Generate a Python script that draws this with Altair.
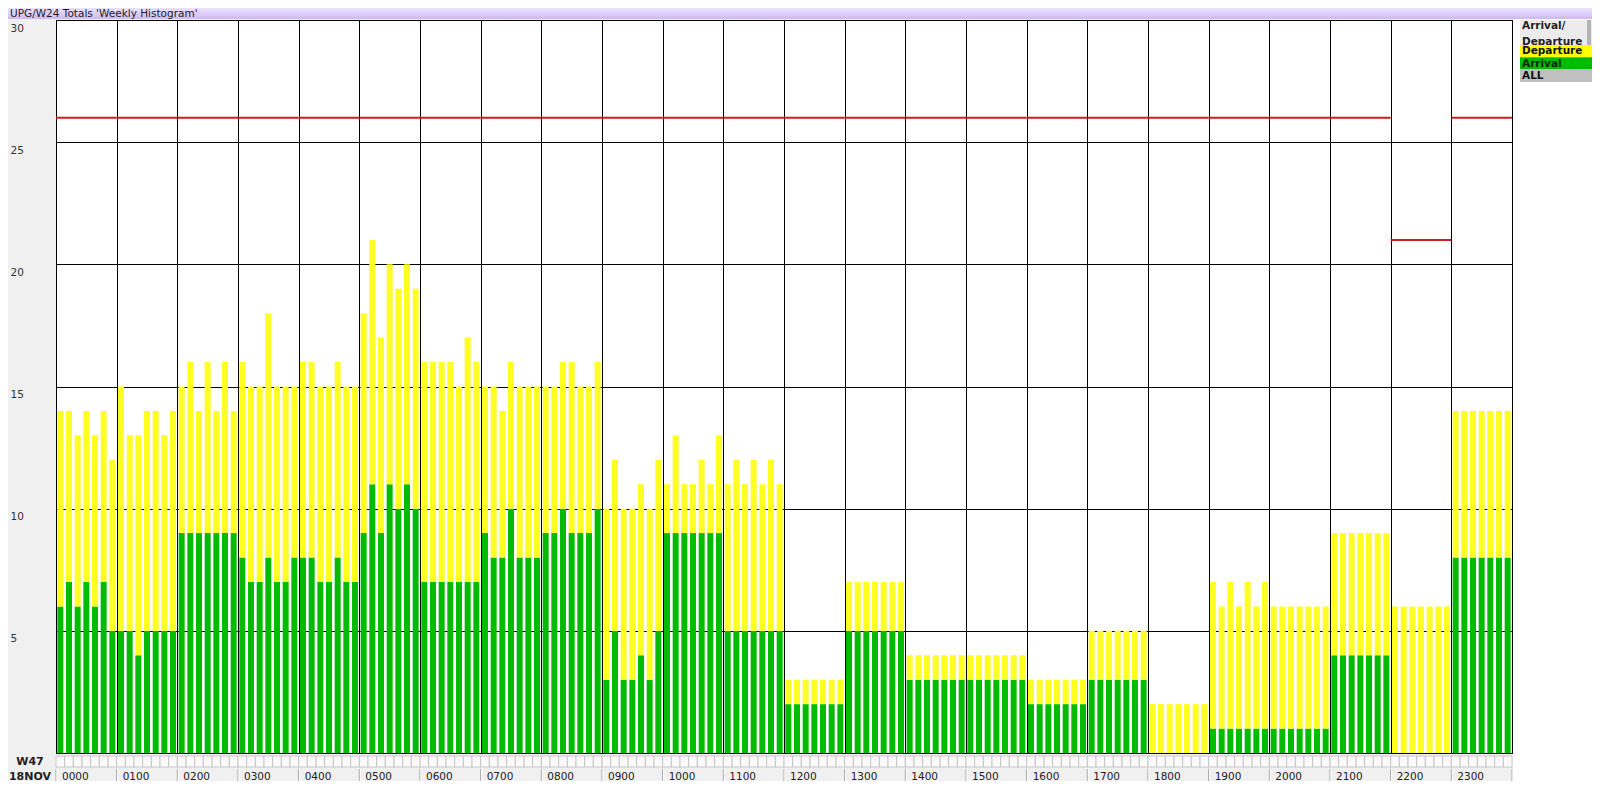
import altair as alt
import pandas as pd

TITLE = "UPG/W24 Totals 'Weekly Histogram'"
hours = ["0000", "0100", "0200", "0300", "0400", "0500", "0600", "0700",
         "0800", "0900", "1000", "1100", "1200", "1300", "1400", "1500",
         "1600", "1700", "1800", "1900", "2000", "2100", "2200", "2300"]
week_labels = ["W47", "18NOV"]
y_ticks = [5, 10, 15, 20, 25, 30]

# arrivals per hour, one value per day of the week (7 bars per hour)
arrivals = [
    [6, 7, 6, 7, 6, 7, 5],
    [5, 5, 4, 5, 5, 5, 5],
    [9, 9, 9, 9, 9, 9, 9],
    [8, 7, 7, 8, 7, 7, 8],
    [8, 8, 7, 7, 8, 7, 7],
    [9, 11, 9, 11, 10, 11, 10],
    [7, 7, 7, 7, 7, 7, 7],
    [9, 8, 8, 10, 8, 8, 8],
    [9, 9, 10, 9, 9, 9, 10],
    [3, 5, 3, 3, 4, 3, 5],
    [9, 9, 9, 9, 9, 9, 9],
    [5, 5, 5, 5, 5, 5, 5],
    [2, 2, 2, 2, 2, 2, 2],
    [5, 5, 5, 5, 5, 5, 5],
    [3, 3, 3, 3, 3, 3, 3],
    [3, 3, 3, 3, 3, 3, 3],
    [2, 2, 2, 2, 2, 2, 2],
    [3, 3, 3, 3, 3, 3, 3],
    [0, 0, 0, 0, 0, 0, 0],
    [1, 1, 1, 1, 1, 1, 1],
    [1, 1, 1, 1, 1, 1, 1],
    [4, 4, 4, 4, 4, 4, 4],
    [0, 0, 0, 0, 0, 0, 0],
    [8, 8, 8, 8, 8, 8, 8],
]
departures = [
    [8, 7, 7, 7, 7, 7, 7],
    [10, 8, 9, 9, 9, 8, 9],
    [6, 7, 5, 7, 5, 7, 5],
    [8, 8, 8, 10, 8, 8, 7],
    [8, 8, 8, 8, 8, 8, 8],
    [9, 10, 8, 9, 9, 9, 9],
    [9, 9, 9, 9, 8, 10, 9],
    [6, 7, 6, 6, 7, 7, 7],
    [6, 6, 6, 7, 6, 6, 6],
    [7, 7, 7, 7, 7, 7, 7],
    [2, 4, 2, 2, 3, 2, 4],
    [6, 7, 6, 7, 6, 7, 6],
    [1, 1, 1, 1, 1, 1, 1],
    [2, 2, 2, 2, 2, 2, 2],
    [1, 1, 1, 1, 1, 1, 1],
    [1, 1, 1, 1, 1, 1, 1],
    [1, 1, 1, 1, 1, 1, 1],
    [2, 2, 2, 2, 2, 2, 2],
    [2, 2, 2, 2, 2, 2, 2],
    [6, 5, 6, 5, 6, 5, 6],
    [5, 5, 5, 5, 5, 5, 5],
    [5, 5, 5, 5, 5, 5, 5],
    [6, 6, 6, 6, 6, 6, 6],
    [6, 6, 6, 6, 6, 6, 6],
]
capacity = [26, 26, 26, 26, 26, 26, 26, 26, 26, 26, 26, 26,
            26, 26, 26, 26, 26, 26, 26, 26, 26, 26, 21, 26]

legend_items = ["Departure", "Arrival", "ALL"]

YELLOW = "#ffff22"
GREEN = "#04bb04"
RED = "#c82020"
legend_fill = {"Departure": "#ffff00", "Arrival": "#00bb00", "ALL": "#c0c0c0"}
legend_text = {"Departure": "#111111", "Arrival": "#0c260c", "ALL": "#111111"}
FONT = "DejaVu Sans"

rows = []
for h in range(24):
    for d in range(7):
        rows.append({"hour": hours[h], "slot": h * 7 + d,
                     "arr": arrivals[h][d], "dep": departures[h][d]})
bars = pd.DataFrame(rows)
cap_df = pd.DataFrame({"h": list(range(24)), "cap": capacity})
sep_df = pd.DataFrame({"h": list(range(25))})
lab_df = pd.DataFrame({"h": list(range(24)), "label": hours})
one = pd.DataFrame({"k": [0]})

W, H = 1456, 733

XS = alt.Scale(domain=[0, 168], nice=False, zero=False)
YS = alt.Scale(domain=[0, 30], nice=False, zero=True)
XAX = alt.Axis(values=list(range(0, 169, 7)), grid=True, labels=False, ticks=False,
               domain=False, title=None, gridColor="black", gridOpacity=1, gridWidth=1)
YAX = alt.Axis(values=y_ticks, grid=True, ticks=False, tickSize=0, domain=False, title=None,
               labelAlign="left", labelBaseline="top", labelPadding=46, labelOffset=3,
               labelFont=FONT, labelFontSize=10.5, labelColor="#333333",
               labelOverlap=False, labelFlush=False,
               gridColor="black", gridOpacity=1, gridWidth=1)


def X(f):
    return alt.X(f, type="quantitative", scale=XS, axis=XAX)


def Y(f):
    return alt.Y(f, type="quantitative", scale=YS, axis=YAX)


layers = []

# title bar
grad = alt.LinearGradient(gradient="linear",
                          stops=[alt.GradientStop(color="#ece2fd", offset=0),
                                 alt.GradientStop(color="#cdb9f3", offset=1)],
                          x1=0, x2=0, y1=0, y2=1)
layers.append(alt.Chart(one).mark_rect(fill=grad).encode(
    x=alt.value(-48), x2=alt.value(1536), y=alt.value(-12), y2=alt.value(-1)))
layers.append(alt.Chart(one).mark_text(align="left", baseline="middle", font=FONT,
                                       fontSize=10.5, color="#1e1e1e").encode(
    x=alt.value(-46), y=alt.value(-6), text=alt.value(TITLE)))

# white panel right of plot
layers.append(alt.Chart(one).mark_rect(fill="white").encode(
    x=alt.value(W + 1), x2=alt.value(1536), y=alt.value(-1), y2=alt.value(H + 28)))

# bars
bar_base = alt.Chart(bars).transform_calculate(
    bx0="datum.slot + 0.155", bx1="datum.slot + 0.845",
    top="datum.arr + datum.dep", zero="0")
layers.append(bar_base.mark_rect(color=GREEN).encode(
    x=X("bx0"), x2=alt.X2("bx1"), y=Y("zero"), y2=alt.Y2("arr")))
layers.append(bar_base.mark_rect(color=YELLOW).encode(
    x=X("bx0"), x2=alt.X2("bx1"), y=Y("arr"), y2=alt.Y2("top")))

# capacity lines
layers.append(alt.Chart(cap_df).transform_calculate(
    c0="datum.h * 7", c1="datum.h * 7 + 7").mark_rule(color=RED, strokeWidth=2).encode(
    x=X("c0"), x2=alt.X2("c1"), y=Y("cap")))

# tick row boxes (one per bar)
layers.append(alt.Chart(bars).transform_calculate(
    t0="datum.slot", t1="datum.slot + 1").mark_rect(
    fill="#fbfbfb", stroke="#bdbdbd", strokeWidth=0.8).encode(
    x=X("t0"), x2=alt.X2("t1"), y=alt.value(H + 3), y2=alt.value(H + 14)))

# hour label row separators
sep = alt.Chart(sep_df).transform_calculate(sx="datum.h * 7")
layers.append(sep.mark_rule(color="#a0a0a0", strokeWidth=1).encode(
    x=X("sx"), y=alt.value(H + 16), y2=alt.value(H + 28)))
layers.append(sep.mark_rule(color="#ffffff", strokeWidth=1, xOffset=1).encode(
    x=X("sx"), y=alt.value(H + 16), y2=alt.value(H + 28)))

# hour labels
layers.append(alt.Chart(lab_df).transform_calculate(lx="datum.h * 7").mark_text(
    align="left", baseline="middle", dx=6, font=FONT, fontSize=10.5, color="#222222").encode(
    x=X("lx"), y=alt.value(H + 23.5), text="label:N"))

# week / date labels
for i, wl in enumerate(week_labels):
    layers.append(alt.Chart(one).mark_text(align="center", baseline="middle", font=FONT,
                                           fontSize=11, fontWeight="bold", color="#222222").encode(
        x=alt.value(-26), y=alt.value(H + 9 + 14.5 * i), text=alt.value(wl)))

# legend panel
layers.append(alt.Chart(one).mark_rect(fill="#ececec").encode(
    x=alt.value(1464), x2=alt.value(1536), y=alt.value(0), y2=alt.value(25)))
layers.append(alt.Chart(one).mark_rect(fill="#b4b4b4").encode(
    x=alt.value(1531), x2=alt.value(1535), y=alt.value(0), y2=alt.value(25)))
for i, txt in enumerate(["Arrival/", "Departure"]):
    layers.append(alt.Chart(one).mark_text(align="left", baseline="top", font=FONT,
                                           fontSize=10.5, fontWeight="bold", color="#222222").encode(
        x=alt.value(1466), y=alt.value(1 + 16 * i), text=alt.value(txt)))
for i, name in enumerate(legend_items):
    y0 = 25 + i * 12.3
    layers.append(alt.Chart(one).mark_rect(fill=legend_fill[name]).encode(
        x=alt.value(1464), x2=alt.value(1536), y=alt.value(y0), y2=alt.value(y0 + 12.3)))
    layers.append(alt.Chart(one).mark_text(align="left", baseline="middle", font=FONT,
                                           fontSize=10.5, fontWeight="bold",
                                           color=legend_text[name]).encode(
        x=alt.value(1466), y=alt.value(y0 + 6.4), text=alt.value(name)))

chart = alt.layer(*layers).properties(
    width=W, height=H,
    padding={"left": 48, "top": 12, "right": 80, "bottom": 28},
    autosize=alt.AutoSizeParams(type="none"),
    background="#f0f0f0",
).configure_view(fill="white", stroke="black", strokeWidth=1)

chart.save("out.html", embed_options={"renderer": "svg", "actions": False})
